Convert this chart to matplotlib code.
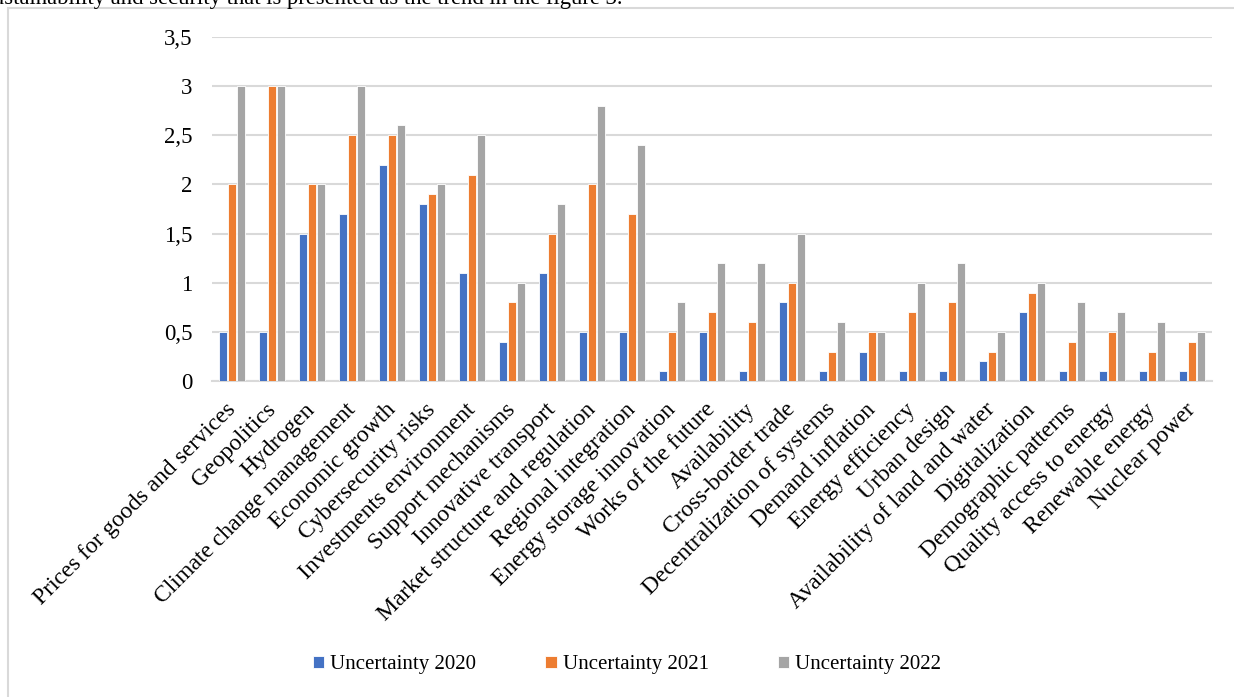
import matplotlib
matplotlib.use("Agg")
import matplotlib.pyplot as plt
import numpy as np
from matplotlib.patches import Rectangle

categories = [
    "Prices for goods and services", "Geopolitics", "Hydrogen",
    "Climate change management", "Economic growth", "Cybersecurity risks",
    "Investments environment", "Support mechanisms", "Innovative transport",
    "Market structure and regulation", "Regional integration",
    "Energy storage innovation", "Works of the future", "Availability",
    "Cross-border trade", "Decentralization of systems", "Demand inflation",
    "Energy efficiency", "Urban design", "Availability of land and water",
    "Digitalization", "Demographic patterns", "Quality access to energy",
    "Renewable energy", "Nuclear power",
]
u2020 = [0.5, 0.5, 1.5, 1.7, 2.2, 1.8, 1.1, 0.4, 1.1, 0.5, 0.5, 0.1, 0.5,
         0.1, 0.8, 0.1, 0.3, 0.1, 0.1, 0.2, 0.7, 0.1, 0.1, 0.1, 0.1]
u2021 = [2.0, 3.0, 2.0, 2.5, 2.5, 1.9, 2.1, 0.8, 1.5, 2.0, 1.7, 0.5, 0.7,
         0.6, 1.0, 0.3, 0.5, 0.7, 0.8, 0.3, 0.9, 0.4, 0.5, 0.3, 0.4]
u2022 = [3.0, 3.0, 2.0, 3.0, 2.6, 2.0, 2.5, 1.0, 1.8, 2.8, 2.4, 0.8, 1.2,
         1.2, 1.5, 0.6, 0.5, 1.0, 1.2, 0.5, 1.0, 0.8, 0.7, 0.6, 0.5]
series_names = ["Uncertainty 2020", "Uncertainty 2021", "Uncertainty 2022"]
colors = ["#4472C4", "#ED7D31", "#A5A5A5"]
yticks = [0, 0.5, 1, 1.5, 2, 2.5, 3, 3.5]
ytick_labels = ["0", "0,5", "1", "1,5", "2", "2,5", "3", "3,5"]

W, H = 1234, 697
fig = plt.figure(figsize=(W / 100, H / 100), dpi=100)
plt.rcParams['font.family'] = ['Liberation Serif', 'DejaVu Serif']

# outer chart border (extends beyond the image at right/bottom)
fig.patches.append(Rectangle((8 / W, -0.1), 1.2, (H - 8) / H + 0.1,
                             transform=fig.transFigure, fill=False,
                             edgecolor="#D9D9D9", linewidth=1.5))

# cropped paragraph text at the very top
fig.text(622 / W, 1 - 4 / H,
         "sustainability and security that is presented as the trend in the figure 3.",
         fontsize=16.3, va='baseline', ha='right', color='black')

left, right, bottom, top = 212, 1212, 381, 37
ax = fig.add_axes([left / W, 1 - bottom / H, (right - left) / W, (bottom - top) / H])

x = np.arange(len(categories))
bw = 0.18
gap = 0.045
data = [u2020, u2021, u2022]
for i, (vals, c, n) in enumerate(zip(data, colors, series_names)):
    ax.bar(x + (i - 1) * (bw + gap), vals, width=bw, color=c, label=n,
           edgecolor='white', linewidth=0.6, zorder=3)

ax.set_xlim(-0.5, len(categories) - 0.5)
ax.set_ylim(0, 3.5)
ax.set_yticks(yticks)
ax.set_yticklabels(ytick_labels, fontsize=16.5)
ax.yaxis.grid(True, color="#D9D9D9", linewidth=1.5, zorder=0)
ax.set_axisbelow(True)
for s in ["top", "right", "left"]:
    ax.spines[s].set_visible(False)
ax.spines["bottom"].set_color("#D9D9D9")
ax.spines["bottom"].set_linewidth(1.5)
ax.tick_params(axis='y', length=0, pad=14)
ax.tick_params(axis='x', length=0, pad=13)
ax.set_xticks(x - 0.18)
ax.set_xticklabels(categories, rotation=45, ha='right', va='top',
                   rotation_mode='anchor', fontsize=17)

handles, labels = ax.get_legend_handles_labels()
fig.legend(handles, labels, loc='center', bbox_to_anchor=(627 / W, 1 - 665 / H),
           ncol=3, frameon=False, fontsize=15, handlelength=0.55, handleheight=0.55,
           handletextpad=0.3, columnspacing=3.3)

fig.savefig("out.png", dpi=100)
